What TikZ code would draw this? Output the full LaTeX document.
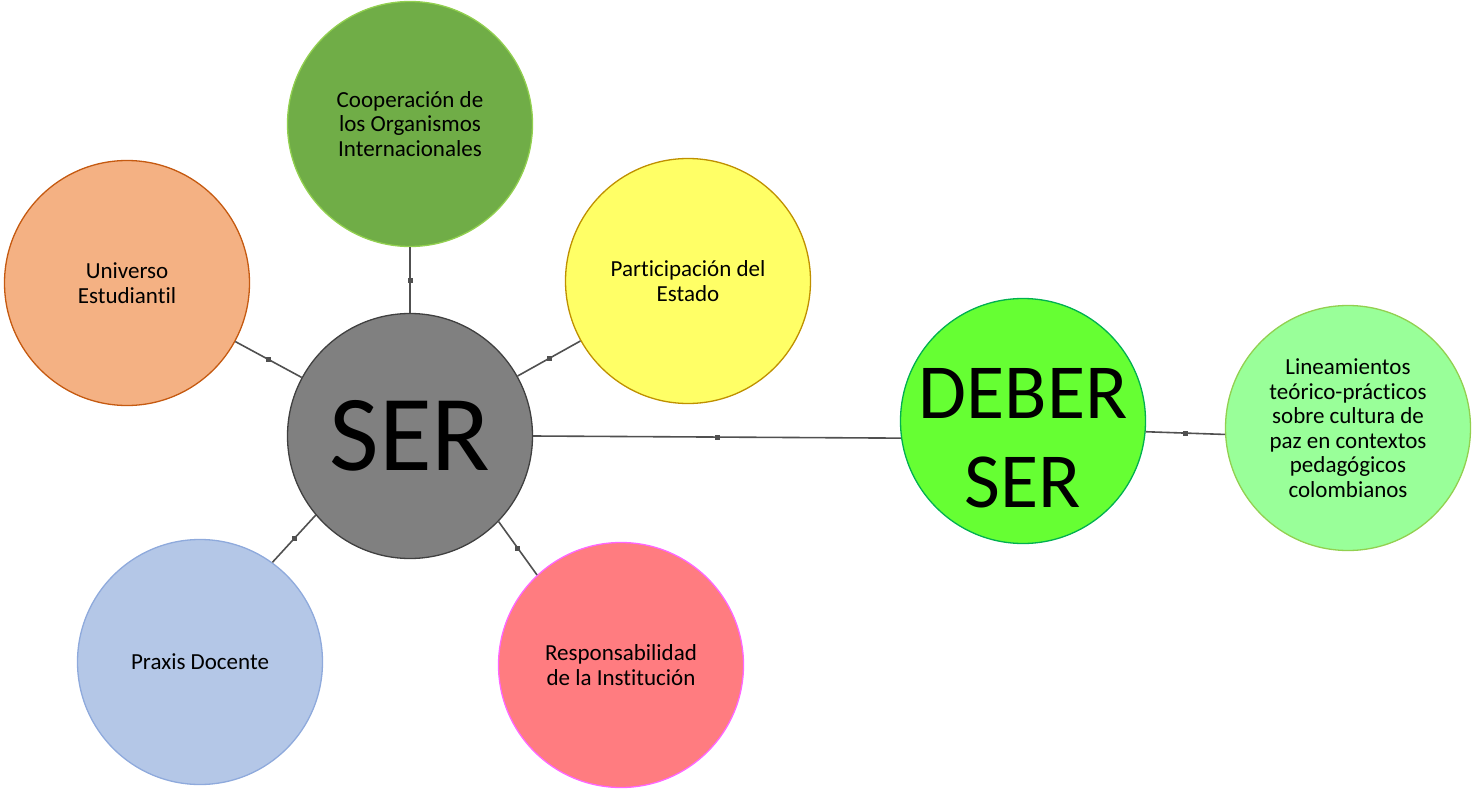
\documentclass[tikz,border=0pt]{standalone}
\usepackage{fontspec}
\setmainfont{Carlito}[Ligatures=NoCommon]
\usepackage{tikz}
\usetikzlibrary{positioning}
\definecolor{serfill}{HTML}{808080}
\definecolor{serline}{HTML}{404040}
\definecolor{coopfill}{HTML}{70AD47}
\definecolor{coopline}{HTML}{92D050}
\definecolor{univfill}{HTML}{F4B183}
\definecolor{univline}{HTML}{C55A11}
\definecolor{partfill}{HTML}{FFFF66}
\definecolor{partline}{HTML}{BF9000}
\definecolor{praxfill}{HTML}{B4C7E7}
\definecolor{praxline}{HTML}{8FAADC}
\definecolor{respfill}{HTML}{FF7C80}
\definecolor{respline}{HTML}{FF66FF}
\definecolor{debfill}{HTML}{66FF33}
\definecolor{debline}{HTML}{00B050}
\definecolor{linfill}{HTML}{99FF99}
\definecolor{linline}{HTML}{92D050}
\definecolor{wire}{HTML}{505050}
\tikzset {
    x=1pt, y=-1pt,
    bubble/.style={circle, minimum size=245pt, inner sep=0pt, line width=1.3pt,
        align=center, font=\fontsize{23}{24.5}\selectfont},
    link/.style={draw=wire, line width=1.6pt},
    knot/.style={rectangle, fill=wire, minimum size=5pt, inner sep=0pt}
}

\begin{document}
\begin{tikzpicture}
                    \useasboundingbox (0,0) rectangle (1472,789);

                    \node[bubble, fill=serfill, draw=serline, font=\fontsize{108}{120}\selectfont] (ser) at (410,436) {SER};
                    \node[bubble, fill=coopfill, draw=coopline] (coop) at (410,124) {Cooperación de\\los Organismos\\Internacionales};
                    \node[bubble, fill=univfill, draw=univline] (univ) at (127,283) {Universo\\Estudiantil};
                    \node[bubble, fill=partfill, draw=partline] (part) at (688,281) {Participación del\\Estado};
                    \node[bubble, fill=praxfill, draw=praxline] (praxis) at (200,662) {Praxis Docente};
                    \node[bubble, fill=respfill, draw=respline] (resp) at (621,665) {Responsabilidad\\de la Institución};
                    \node[bubble, fill=debfill, draw=debline,
                        label={[yshift=-17pt, align=center, font=\fontsize{78}{89}\selectfont]center:DEBER\\SER}] (deber) at (1023,421) {};
                    \node[bubble, fill=linfill, draw=linline] (lin) at (1348,428) {Lineamientos\\teórico-prácticos\\sobre cultura de\\paz en contextos\\pedagógicos\\colombianos};

                    % connectors with a small knot in the middle
                    \draw[link] (coop.south) -- node[knot]{} (ser.north);
                    \draw[link] (univ) -- node[knot]{} (ser);
                    \draw[link] (part) -- node[knot]{} (ser);
                    \draw[link] (ser.220) -- node[knot]{} (praxis.54);
                    \draw[link] (ser.316) -- node[knot]{} (resp.133);
                    \draw[link] (ser.0) -- node[knot]{} (deber.188);
                    \draw[link] (deber.355) -- node[knot]{} (lin.183);
                    \end{tikzpicture}
\end{document}
